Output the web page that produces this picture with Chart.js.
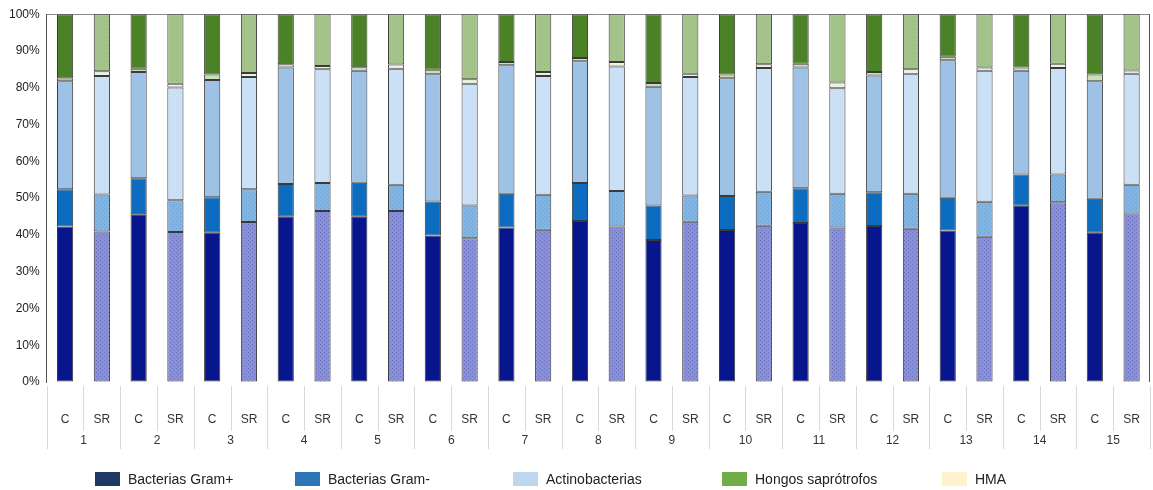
<!DOCTYPE html>
<html>
<head>
<meta charset="utf-8">
<script src="https://cdn.jsdelivr.net/npm/chart.js@4/dist/chart.umd.min.js"></script>
<style>
  html, body { margin: 0; padding: 0; background: #fff; }
  #wrap { width: 1153px; height: 490px; }
</style>
</head>
<body>
<div id="wrap"><canvas id="chart" width="1153" height="490"></canvas></div>
<script>
// sites 1..15, each with a control (C) and a second treatment (SR) bar
const sites = ['1', '2', '3', '4', '5', '6', '7', '8', '9', '10', '11', '12', '13', '14', '15'];
const treatments = ['C', 'SR'];

// % of total per group, in bar order 1C, 1SR, 2C, 2SR ...
const gramPos = [42.3, 40.9, 45.6, 40.8, 40.6, 43.5, 44.9, 46.5, 44.9, 46.5, 39.8, 39.1, 42.0, 41.4, 43.8, 42.3, 38.6, 43.6, 41.3, 42.5, 43.2, 42.0, 42.4, 41.7, 41.2, 39.5, 47.9, 48.9, 40.6, 45.8];
const gramNeg = [10.1, 10.1, 9.8, 8.6, 9.6, 8.9, 8.9, 7.6, 9.3, 7.1, 9.3, 8.9, 9.2, 9.5, 10.3, 9.6, 9.4, 7.1, 9.3, 9.2, 9.5, 9.2, 9.2, 9.5, 8.9, 9.5, 8.5, 7.5, 9.2, 7.8];
const actino = [29.4, 32.2, 28.9, 30.7, 31.9, 30.5, 31.7, 30.9, 30.4, 31.6, 34.6, 33.1, 34.9, 32.3, 33.1, 33.9, 32.3, 32.2, 32.0, 33.7, 32.8, 28.7, 31.7, 32.5, 37.4, 35.6, 28.2, 29.0, 32.0, 30.2];
const hma = [0.7, 1.3, 0.9, 1.0, 1.5, 1.1, 0.9, 0.9, 1.0, 1.1, 1.2, 1.2, 0.9, 1.1, 0.9, 1.2, 1.0, 0.9, 1.0, 1.0, 1.0, 1.5, 1.0, 1.3, 0.9, 0.9, 0.9, 1.1, 1.8, 0.9];
const hongos = [17.5, 15.5, 14.8, 18.9, 16.4, 16.0, 13.6, 14.1, 14.4, 13.7, 15.1, 17.7, 13.0, 15.7, 11.9, 13.0, 18.7, 16.2, 16.4, 13.6, 13.5, 18.6, 15.7, 15.0, 11.6, 14.5, 14.5, 13.5, 16.4, 15.3];

const yTicks = ['0%', '10%', '20%', '30%', '40%', '50%', '60%', '70%', '80%', '90%', '100%'];

const barLabels = [];
sites.forEach(() => treatments.forEach(t => barLabels.push(t)));

const FONT = '"Liberation Sans", Arial, sans-serif';
const canvas = document.getElementById('chart');
const ctx = canvas.getContext('2d');

// speckled fill used for the SR bars
function stipple(base, dot) {
  const c = document.createElement('canvas');
  c.width = 4; c.height = 4;
  const g = c.getContext('2d');
  g.fillStyle = base;
  g.fillRect(0, 0, 4, 4);
  g.fillStyle = dot;
  g.fillRect(0, 0, 1, 1);
  g.fillRect(2, 2, 1, 1);
  return ctx.createPattern(c, 'repeat');
}

function barFill(solid, base, dot) {
  const pat = stipple(base, dot);
  return barLabels.map(t => t === 'C' ? solid : pat);
}

const legendItems = [
  { label: 'Bacterias Gram+', color: '#203864' },
  { label: 'Bacterias Gram-', color: '#2e75b6' },
  { label: 'Actinobacterias', color: '#bdd7ee' },
  { label: 'Hongos saprótrofos', color: '#70ad47' },
  { label: 'HMA', color: '#fff2cc' }
];

function dataset(label, values, fill) {
  return {
    label: label,
    data: values,
    backgroundColor: fill,
    borderColor: '#3a3a3a',
    borderWidth: 1,
    borderSkipped: false,
    barPercentage: 0.44,
    categoryPercentage: 1
  };
}

// two-level category axis (C/SR over site number), frame and legend
const extras = {
  id: 'extras',
  afterDraw(chart) {
    const x = chart.scales.x;
    const area = chart.chartArea;
    const c = chart.ctx;
    const step = x.getPixelForValue(1) - x.getPixelForValue(0);
    c.save();

    c.strokeStyle = '#d9d9d9';
    c.lineWidth = 1;
    for (let i = 0; i <= barLabels.length; i++) {
      const px = Math.round(x.getPixelForValue(i) - step / 2) + 0.5;
      const long = i % 2 === 0;
      c.beginPath();
      c.moveTo(px, area.bottom + 4);
      c.lineTo(px, area.bottom + (long ? 67 : 49));
      c.stroke();
    }

    c.fillStyle = '#333';
    c.font = '12px ' + FONT;
    c.textAlign = 'center';
    c.textBaseline = 'middle';
    barLabels.forEach((t, i) => {
      c.fillText(t, x.getPixelForValue(i), area.bottom + 38);
    });
    sites.forEach((s, i) => {
      const px = (x.getPixelForValue(i * 2) + x.getPixelForValue(i * 2 + 1)) / 2;
      c.fillText(s, px, area.bottom + 59);
    });

    c.strokeStyle = '#555';
    c.beginPath();
    c.moveTo(Math.round(area.right) - 0.5, area.top);
    c.lineTo(Math.round(area.right) - 0.5, area.bottom);
    c.stroke();

    const legendX = [95, 295, 513, 722, 942];
    c.font = '14px ' + FONT;
    c.textAlign = 'left';
    legendItems.forEach((it, i) => {
      c.fillStyle = it.color;
      c.fillRect(legendX[i], 472, 25, 14);
      c.fillStyle = '#222';
      c.fillText(it.label, legendX[i] + 33, 480);
    });
    c.restore();
  }
};

new Chart(canvas, {
  type: 'bar',
  data: {
    labels: barLabels,
    datasets: [
      dataset('Bacterias Gram+', gramPos, barFill('#07168c', '#8a90d4', '#6b72c2')),
      dataset('Bacterias Gram-', gramNeg, barFill('#0b6cc0', '#84b4e0', '#6a9fd2')),
      dataset('Actinobacterias', actino, barFill('#9dc2e5', '#cfe1f4', '#bcd3ec')),
      dataset('HMA', hma, barFill('#c8e0b4', '#eef5e4', '#dde9d0')),
      dataset('Hongos saprótrofos', hongos, barFill('#4b8228', '#a7c48e', '#93b57a'))
    ]
  },
  options: {
    responsive: false,
    animation: false,
    layout: { padding: { left: 2, top: 5, right: 3, bottom: 100 } },
    plugins: { legend: { display: false }, tooltip: { enabled: false } },
    scales: {
      x: {
        stacked: true,
        grid: { display: false },
        border: { display: false },
        ticks: { display: false }
      },
      y: {
        stacked: true,
        min: 0,
        max: 100,
        grid: {
          drawTicks: false,
          color: c => c.tick && c.tick.value === 100 ? '#8a8a8a' : 'rgba(0,0,0,0)'
        },
        border: { display: true, color: '#555' },
        ticks: {
          stepSize: 10,
          padding: 7,
          color: '#222',
          font: { size: 12, family: FONT },
          callback: (v) => yTicks[Math.round(v / 10)]
        }
      }
    }
  },
  plugins: [extras]
});
</script>
</body>
</html>
